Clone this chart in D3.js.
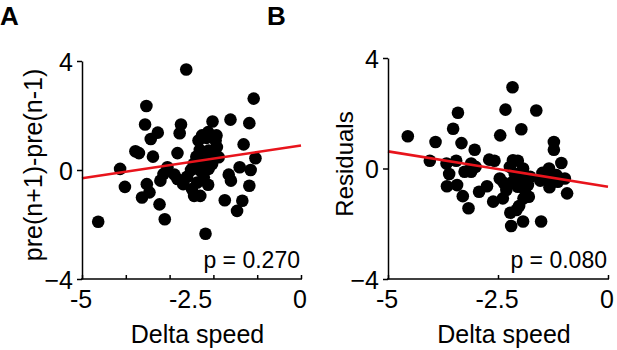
<!DOCTYPE html>
<html>
<head>
<meta charset="utf-8">
<script src="https://cdn.jsdelivr.net/npm/d3@7"></script>
<style>
  body { margin: 0; background: #fff; }
  text { font-family: "Liberation Sans", Arial, Helvetica, sans-serif; fill: #000; }
</style>
</head>
<body>
<div id="chart"></div>
<script>
// Panel A: delta speed vs pre(n+1)-pre(n-1)
var speedA = [-2.62, -1.08, -3.53, -3.56, -2.74, -2.77, -3.27, -3.43, -2.02, -1.61, -1.18,
  -2.26, -2.12, -1.93, -1.31, -1.04, -3.78, -3.70, -3.38, -2.82, -4.13, -4.02, -4.63,
  -3.05, -3.14, -3.21, -2.89, -2.82, -3.52, -3.46, -3.63, -3.23, -3.11, -2.69, -2.49,
  -2.44, -2.30, -2.18, -2.12, -2.51, -2.45, -2.39, -2.31, -2.22, -2.11, -2.03, -2.30,
  -2.22, -1.92, -2.00, -1.88, -1.74, -1.65, -1.60, -1.40, -1.15, -1.18, -1.34, -1.46,
  -2.16, -1.95, -2.34, -2.60, -2.11, -2.37];
var preDiffA = [3.69, 2.62, 2.35, 1.67, 1.67, 1.35, 1.37, 1.14, 1.78, 1.85, 1.72,
  1.27, 1.39, 1.27, 0.94, 0.43, 0.69, 0.62, 0.49, 0.62, 0.04, -0.62, -1.90,
  0.10, -0.15, -0.39, -0.17, -0.33, -0.52, -0.82, -1.01, -1.26, -1.81, -0.52, -0.70,
  -0.95, -0.95, -2.34, -0.54, 0.00, 0.22, 0.49, 0.74, 0.34, 0.04, 0.22, -0.02,
  -0.27, 0.84, 0.59, 0.47, -1.11, -0.17, -0.39, 0.10, 0.00, -0.58, -1.13, -1.50,
  1.18, 1.08, 1.08, -0.25, 0.71, -0.46];
var fitAx = [-5, 0];
var fitAy = [-0.30, 0.90];

// Panel B: delta speed vs residuals
var speedB = [-4.55, -3.92, -4.05, -3.52, -3.41, -3.33, -3.03, -3.67, -3.45, -3.61, -3.66,
  -3.43, -3.30, -3.17, -3.26, -3.11, -3.01, -2.93, -2.75, -2.70, -2.58, -2.45, -2.33,
  -2.17, -1.97, -1.63, -1.23, -1.23, -1.06, -0.93, -1.34, -1.49, -1.54, -1.33, -1.17,
  -0.98, -1.52, -2.20, -1.93, -2.22, -2.02, -2.61, -2.39, -2.46, -2.37, -2.23, -2.16,
  -2.05, -2.12, -1.93, -1.82, -1.80, -1.89, -2.05, -2.16, -2.31, -1.99, -1.77, -1.92,
  -2.08, -1.36, -1.14, -3.11];
var residB = [1.17, 0.96, 0.28, 1.44, 2.02, 0.92, 0.68, 0.18, 0.28, -0.20, -0.64,
  -0.60, -1.00, -1.44, -0.12, -0.12, 0.06, -0.84, -0.64, 0.32, 0.28, 1.20, 2.13,
  2.94, 1.42, 2.10, 0.96, 0.68, 0.20, -0.90, 0.00, -0.16, -0.44, -0.68, -0.24,
  -0.36, -1.92, -2.08, -1.92, -1.60, -1.36, -1.20, -1.08, -0.36, -0.52, 0.06, 0.30,
  0.28, -0.18, 0.00, -0.60, -1.02, -0.78, -0.66, -0.48, -0.78, -0.36, -0.30, -1.08,
  -1.50, -0.30, -0.48, 0.18];
var fitBx = [-5, 0];
var fitBy = [0.62, -0.66];

var xTicksA = [-5, -4, -3, -2, -1, 0];
var xTicksB = [-5, -2.5, 0];
var xTickLabels = [-5, -2.5, 0];
var yTicks = [-4, 0, 4];

var svgWidth = 617;
var svgHeight = 350;

var svg = d3.select("#chart")
    .append("svg")
    .attr("width", svgWidth)
    .attr("height", svgHeight);

function drawPanel(p) {
    var xScale = d3.scaleLinear().domain([-5, 0]).range([p.left, p.right]);
    var yScale = d3.scaleLinear().domain([-4, 4]).range([p.bottom, p.top]);
    var g = svg.append("g");

    // dots
    g.selectAll("circle")
        .data(p.xs)
        .enter()
        .append("circle")
        .attr("cx", d => xScale(d))
        .attr("cy", (d, i) => yScale(p.ys[i]))
        .attr("r", 6.3)
        .attr("fill", "#000");

    // regression line
    var line = d3.line()
        .x(d => xScale(d[0]))
        .y(d => yScale(d[1]));
    g.append("path")
        .datum(p.fitX.map((d, i) => [d, p.fitY[i]]))
        .attr("d", line)
        .attr("fill", "none")
        .attr("stroke", "#e8141c")
        .attr("stroke-width", 2.6);

    // x axis: ticks pointing up, labels placed separately
    var xAxis = g.append("g")
        .attr("transform", `translate(0, ${p.bottom})`)
        .call(d3.axisBottom(xScale).tickValues(p.xTicks).tickSize(-4).tickFormat("").tickSizeOuter(0));
    xAxis.select(".domain").attr("stroke", "#000").attr("stroke-width", 1.5)
        .attr("d", `M${p.left - 1},0H${p.right + 1}`);
    xAxis.selectAll(".tick line").attr("stroke", "#000").attr("stroke-width", 1.5);

    g.selectAll(".xlab")
        .data(xTickLabels)
        .enter()
        .append("text")
        .attr("x", d => xScale(d) - 1)
        .attr("y", 308)
        .attr("text-anchor", "middle")
        .style("font-size", "25px")
        .text(d => d);

    // y axis
    var yAxis = g.append("g")
        .attr("transform", `translate(${p.left}, 0)`)
        .call(d3.axisLeft(yScale).tickValues(yTicks).tickSize(5).tickPadding(4).tickSizeOuter(0));
    yAxis.select(".domain").attr("stroke", "#000").attr("stroke-width", 1.5);
    yAxis.selectAll(".tick line").attr("stroke", "#000").attr("stroke-width", 1.5);
    yAxis.selectAll(".tick text")
        .style("font-size", "25px")
        .style("font-family", "'Liberation Sans', Arial, sans-serif")
        .attr("fill", "#000")
        .attr("dy", "0.36em");

    // axis titles
    g.append("text")
        .attr("x", (p.left + p.right) / 2 + 6)
        .attr("y", 343)
        .attr("text-anchor", "middle")
        .style("font-size", "25px")
        .text("Delta speed");

    g.append("text")
        .attr("transform", `translate(${p.yTitleX}, ${p.yTitleY}) rotate(-90)`)
        .attr("text-anchor", "middle")
        .style("font-size", p.yTitleSize)
        .text(p.yTitle);

    // p value
    g.append("text")
        .attr("x", p.right - 1)
        .attr("y", 268)
        .attr("text-anchor", "end")
        .style("font-size", "23px")
        .text(p.pText);

    // panel letter
    svg.append("text")
        .attr("x", p.letterX)
        .attr("y", 25)
        .style("font-size", "26px")
        .style("font-weight", "bold")
        .text(p.letter);
}

drawPanel({
    xs: speedA, ys: preDiffA, fitX: fitAx, fitY: fitAy,
    left: 82, right: 301, top: 61, bottom: 279,
    xTicks: xTicksA, yTitle: "pre(n+1)-pre(n-1)", yTitleX: 42, yTitleY: 165, yTitleSize: "25px",
    pText: "p = 0.270", letter: "A", letterX: 0
});

drawPanel({
    xs: speedB, ys: residB, fitX: fitBx, fitY: fitBy,
    left: 388, right: 608, top: 58, bottom: 279,
    xTicks: xTicksB, yTitle: "Residuals", yTitleX: 353, yTitleY: 164, yTitleSize: "24px",
    pText: "p = 0.080", letter: "B", letterX: 267
});
</script>
</body>
</html>
